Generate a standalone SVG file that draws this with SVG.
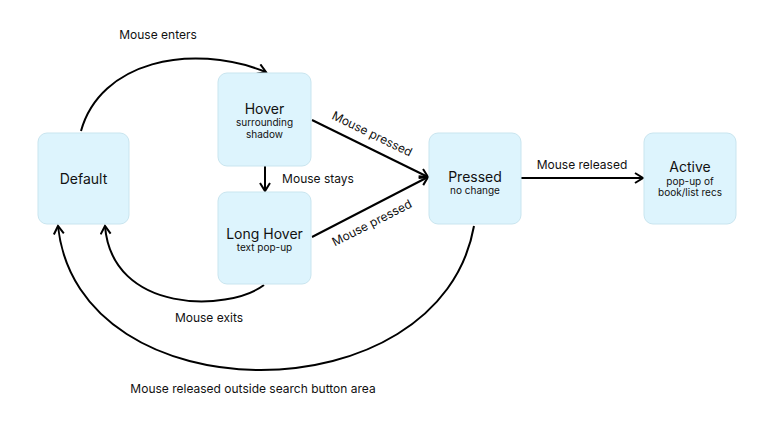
<svg xmlns="http://www.w3.org/2000/svg" width="774" height="430" viewBox="0 0 774 430">
<style>
.node{fill:#DDF4FD;stroke:#C9E5EF;stroke-width:1}
.t{font-family:Inter,"Noto Sans",sans-serif;fill:#111;text-anchor:middle}
.big{font-size:14px}
.small{font-size:10px}
.lbl{font-size:12px}
.e{fill:none;stroke:#000;stroke-width:2;marker-end:url(#ah)}
</style>
<defs>
<marker id="ah" viewBox="0 0 12 12" refX="10" refY="6" markerWidth="12" markerHeight="12" markerUnits="userSpaceOnUse" orient="auto">
<path d="M2,1 L10,6 L2,11" fill="none" stroke="#000" stroke-width="2"/>
</marker>
</defs>
<rect width="774" height="430" fill="#fff"/>
<g id="connectors">
<path class="e" d="M81,131 C100,62 190,42 266,72"/>
<path class="e" d="M265,166 L265,191"/>
<path class="e" d="M312,120 L428,177"/>
<path class="e" d="M312,237 L428,177"/>
<path class="e" d="M521,178 L643,178"/>
<path class="e" d="M264,285 C228,312 112,314 105,226"/>
<path class="e" d="M474,226 C440,418 78,418 58,226"/>
<text class="t lbl" x="158" y="39">Mouse enters</text>
<text class="t lbl" x="318" y="183">Mouse stays</text>
<text class="t lbl" x="372" y="138" transform="rotate(26 372 134)">Mouse pressed</text>
<text class="t lbl" x="372" y="227" transform="rotate(-27 372 223)">Mouse pressed</text>
<text class="t lbl" x="582" y="169">Mouse released</text>
<text class="t lbl" x="209" y="322">Mouse exits</text>
<text class="t lbl" x="253" y="393">Mouse released outside search button area</text>
</g>
<g id="default">
<rect class="node" x="38" y="133" width="91" height="91" rx="9"/>
<text class="t big" x="83.5" y="184">Default</text>
</g>
<g id="hover">
<rect class="node" x="218" y="73" width="93" height="93" rx="9"/>
<text class="t big" x="264.5" y="114">Hover</text>
<text class="t small" x="264.5" y="126">surrounding</text>
<text class="t small" x="264.5" y="138">shadow</text>
</g>
<g id="longhover">
<rect class="node" x="218" y="192" width="93" height="92" rx="9"/>
<text class="t big" x="264.5" y="239">Long Hover</text>
<text class="t small" x="264.5" y="251">text pop-up</text>
</g>
<g id="pressed">
<rect class="node" x="429" y="133" width="92" height="91" rx="9"/>
<text class="t big" x="475" y="182">Pressed</text>
<text class="t small" x="475" y="194">no change</text>
</g>
<g id="active">
<rect class="node" x="644" y="133" width="92" height="91" rx="9"/>
<text class="t big" x="690" y="172">Active</text>
<text class="t small" x="690" y="185">pop-up of</text>
<text class="t small" x="690" y="196">book/list recs</text>
</g>
</svg>
